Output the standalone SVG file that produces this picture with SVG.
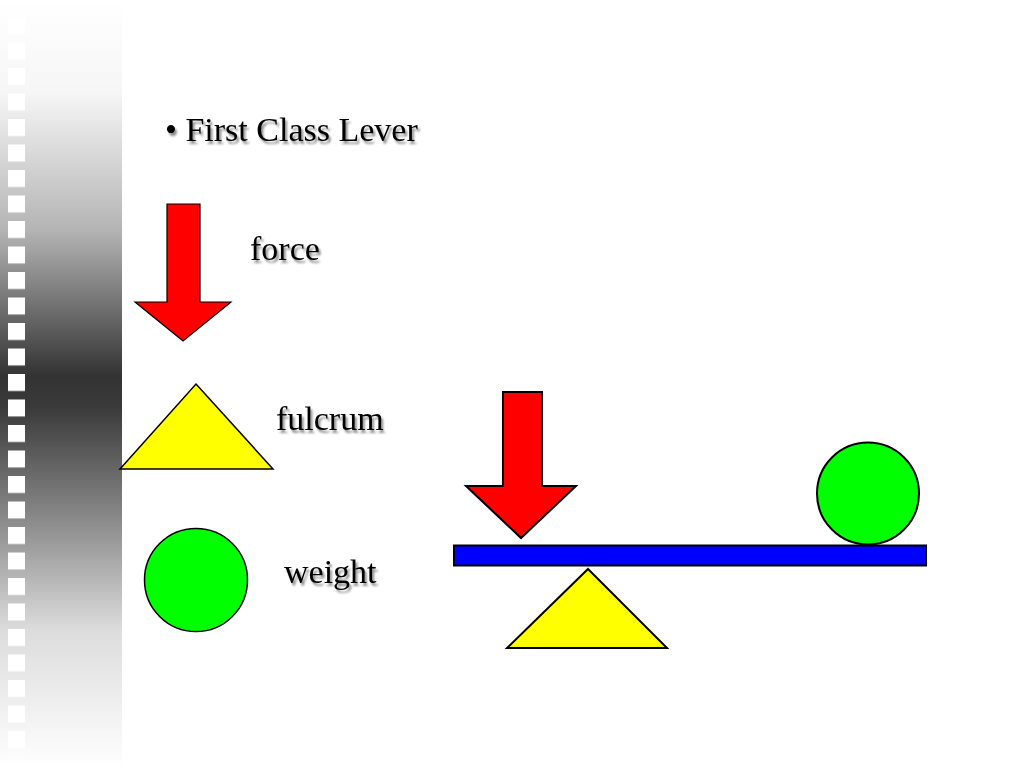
<svg xmlns="http://www.w3.org/2000/svg" width="1024" height="768" viewBox="0 0 1024 768">
<defs>
<linearGradient id="strip" x1="0" y1="0" x2="0" y2="768" gradientUnits="userSpaceOnUse">
<stop offset="0" stop-color="#ffffff"/>
<stop offset="0.12" stop-color="#f6f6f6"/>
<stop offset="0.3" stop-color="#b4b4b4"/>
<stop offset="0.49" stop-color="#333333"/>
<stop offset="0.53" stop-color="#3a3a3a"/>
<stop offset="0.68" stop-color="#8c8c8c"/>
<stop offset="0.82" stop-color="#dcdcdc"/>
<stop offset="1" stop-color="#ffffff"/>
</linearGradient>
<filter id="shadow" x="-10%" y="-20%" width="130%" height="150%">
<feGaussianBlur in="SourceAlpha" stdDeviation="1.2"/>
<feOffset dx="2" dy="2.5" result="b"/>
<feComponentTransfer><feFuncA type="linear" slope="0.45"/></feComponentTransfer>
<feMerge><feMergeNode/><feMergeNode in="SourceGraphic"/></feMerge>
</filter>
<pattern id="sq" x="8" y="17" width="20" height="25.5" patternUnits="userSpaceOnUse">
<rect x="0" y="0" width="17" height="17" fill="#ffffff"/>
</pattern>
</defs>
<style>
.lbl{font-family:"Liberation Serif","Times New Roman",serif;font-size:34px;fill:#000;}
.red{fill:#ff0000;stroke:#000;stroke-width:1.2;stroke-linejoin:miter;}
.red2{fill:#ff0000;stroke:#000;stroke-width:2;}
.yel{fill:#ffff00;stroke:#000;stroke-width:1.5;}
.yel2{fill:#ffff00;stroke:#000;stroke-width:2;}
.grn{fill:#00ff00;stroke:#000;stroke-width:1.5;}
.grn2{fill:#00ff00;stroke:#000;stroke-width:2;}
</style>
<rect width="1024" height="768" fill="#ffffff"/>
<g id="strip-bg">
<rect x="0" y="0" width="122" height="768" fill="url(#strip)"/>
<rect x="8" y="17" width="17" height="740" fill="url(#sq)"/>
</g>
<g id="title"><text class="lbl" x="165" y="141" filter="url(#shadow)">• First Class Lever</text></g>
<g id="legend-force">
<polygon class="red" points="167,204 200,204 200,302 231,302 183,341 135,302 167,302"/>
<text class="lbl" x="250" y="260" filter="url(#shadow)">force</text>
</g>
<g id="legend-fulcrum">
<polygon class="yel" points="196,384 273,469 120,469"/>
<text class="lbl" x="276" y="430" filter="url(#shadow)">fulcrum</text>
</g>
<g id="legend-weight">
<circle class="grn" cx="196" cy="580" r="51.5"/>
<text class="lbl" x="284" y="583" filter="url(#shadow)">weight</text>
</g>
<g id="lever-bar"><rect x="454" y="545.5" width="472" height="20" fill="#0000ff" stroke="#000" stroke-width="2"/></g>
<g id="lever-force"><polygon class="red2" points="503,392 542,392 542,486 576,486 521,538 466,486 503,486"/></g>
<g id="lever-fulcrum"><polygon class="yel2" points="588,569 667,648 507,648"/></g>
<g id="lever-weight"><circle class="grn2" cx="868" cy="493.5" r="51"/></g>
<g id="connectors"></g>
</svg>
